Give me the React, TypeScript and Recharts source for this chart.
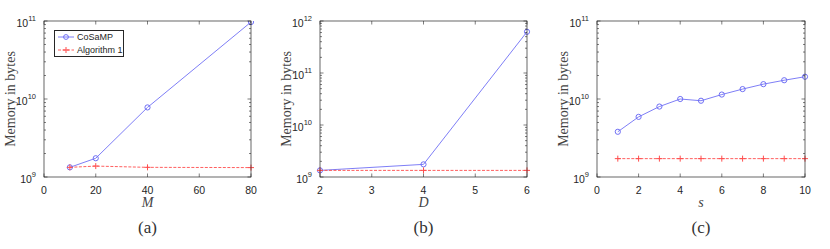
import { LineChart, Line, XAxis, YAxis } from 'recharts'

// (a) memory vs M
const M_VALUES = [10, 20, 40, 80]
const M_COSAMP = [1.33e9, 1.74e9, 7.8e9, 9.7e10]
const M_ALG1 = [1.33e9, 1.38e9, 1.33e9, 1.32e9]

// (b) memory vs D
const D_VALUES = [2, 4, 6]
const D_COSAMP = [1.34e9, 1.75e9, 6.2e11]
const D_ALG1 = [1.34e9, 1.34e9, 1.34e9]

// (c) memory vs s
const S_VALUES = [1, 2, 3, 4, 5, 6, 7, 8, 9, 10]
const S_COSAMP = [3.8e9, 5.9e9, 8.0e9, 1.0e10, 9.5e9, 1.14e10, 1.34e10, 1.55e10, 1.74e10, 1.93e10]
const S_ALG1 = [1.72e9, 1.72e9, 1.72e9, 1.72e9, 1.72e9, 1.72e9, 1.72e9, 1.72e9, 1.72e9, 1.72e9]

const M_TICKS = [0, 20, 40, 60, 80]
const D_TICKS = [2, 3, 4, 5, 6]
const S_TICKS = [0, 2, 4, 6, 8, 10]

const BLUE = '#6f6ff5'
const RED = '#ff4d4d'
const TXT = '#262626'
const SANS = '"Liberation Sans", Arial, sans-serif'
const SERIF = '"Liberation Serif", "Times New Roman", serif'

const Y_AXIS_W = 44
const RIGHT_PAD = 10
const TOP = 21
const PLOT_BOTTOM = 177
const X_AXIS_H = 40
const CHART_H = PLOT_BOTTOM + X_AXIS_H

function logTicks(lo: number, hi: number) {
  const out: number[] = []
  for (let e = lo; e < hi; e++) {
    for (let k = 1; k < 10; k++) out.push(k * Math.pow(10, e))
  }
  out.push(Math.pow(10, hi))
  return out
}

function makeYTick(plotRight: number) {
  return function YTick(props: any) {
    const { y, payload, index } = props
    const v = payload.value as number
    const exp = Math.round(Math.log10(v))
    const major = Math.abs(v - Math.pow(10, exp)) < v * 1e-6
    const len = major ? 3.5 : 2
    return (
      <g>
        {index === 0 && (
          <rect x={Y_AXIS_W} y={TOP} width={plotRight - Y_AXIS_W} height={PLOT_BOTTOM - TOP}
            fill="none" stroke={TXT} strokeWidth={0.7} />
        )}
        <line x1={Y_AXIS_W} x2={Y_AXIS_W + len} y1={y} y2={y} stroke={TXT} strokeWidth={0.6} />
        <line x1={plotRight - len} x2={plotRight} y1={y} y2={y} stroke={TXT} strokeWidth={0.6} />
        {major && (
          <text x={Y_AXIS_W - 8} y={y + 6} textAnchor="end" fontFamily={SANS} fontSize={10.5} fill={TXT}>
            10
            <tspan dy={-6} fontSize={7.5}>{exp}</tspan>
          </text>
        )}
      </g>
    )
  }
}

function XTick(props: any) {
  const { x, payload } = props
  return (
    <g>
      <line x1={x} x2={x} y1={PLOT_BOTTOM} y2={PLOT_BOTTOM - 3.5} stroke={TXT} strokeWidth={0.6} />
      <line x1={x} x2={x} y1={TOP} y2={TOP + 3.5} stroke={TXT} strokeWidth={0.6} />
      <text x={x} y={PLOT_BOTTOM + 17} textAnchor="middle" fontFamily={SANS} fontSize={10.5} fill={TXT}>
        {payload.value}
      </text>
    </g>
  )
}

function YLabel() {
  const cy = (TOP + PLOT_BOTTOM) / 2
  const cx = Y_AXIS_W - 34
  return (
    <text x={cx} y={cy} transform={`rotate(-90 ${cx} ${cy})`} textAnchor="middle" dominantBaseline="central"
      fontFamily={SERIF} fontSize={14} fill="#444">
      Memory in bytes
    </text>
  )
}

function XLabel({ text, viewBox }: any) {
  const cx = viewBox.x + viewBox.width / 2
  return (
    <text x={cx} y={PLOT_BOTTOM + 30} textAnchor="middle" fontFamily={SERIF} fontStyle="italic" fontSize={14} fill="#444">
      {text}
    </text>
  )
}

function Circle(props: any) {
  const { cx, cy, index } = props
  return <circle key={'c' + index} cx={cx} cy={cy} r={2.6} fill="none" stroke={BLUE} strokeWidth={1} />
}

function Plus(props: any) {
  const { cx, cy, index } = props
  return (
    <path key={'p' + index} d={`M${cx - 3},${cy}H${cx + 3}M${cx},${cy - 3}V${cy + 3}`} stroke={RED} strokeWidth={1} fill="none" />
  )
}

interface PanelProps {
  left: number
  plotW: number
  xs: number[]
  cosamp: number[]
  alg1: number[]
  xDomain: [number, number]
  xTicks: number[]
  yExp: [number, number]
  xLabel: string
  caption: string
}

function Panel({ left, plotW, xs, cosamp, alg1, xDomain, xTicks, yExp, xLabel, caption }: PanelProps) {
  const width = Y_AXIS_W + plotW + RIGHT_PAD
  const plotRight = Y_AXIS_W + plotW
  const data = xs.map((x, i) => ({ x, cosamp: cosamp[i], alg1: alg1[i] }))
  return (
    <div style={{ position: 'absolute', left, top: 0, width, height: 249 }}>
      <LineChart width={width} height={CHART_H} data={data} margin={{ top: TOP, right: RIGHT_PAD, left: 0, bottom: 0 }}>
        <XAxis dataKey="x" type="number" domain={xDomain} ticks={xTicks} interval={0} height={X_AXIS_H}
          tick={<XTick />} tickLine={false} axisLine={false}
          label={<XLabel text={xLabel} />} />
        <YAxis type="number" scale="log" domain={[Math.pow(10, yExp[0]), Math.pow(10, yExp[1])]} allowDataOverflow
          ticks={logTicks(yExp[0], yExp[1])} interval={0} width={Y_AXIS_W}
          tick={makeYTick(plotRight)} tickLine={false} axisLine={false}
          label={<YLabel />} />
        <Line dataKey="cosamp" stroke={BLUE} strokeWidth={0.9} dot={Circle} isAnimationActive={false} />
        <Line dataKey="alg1" stroke={RED} strokeWidth={0.9} strokeDasharray="3 1.5" dot={Plus} isAnimationActive={false} />
      </LineChart>
      <div style={{ position: 'absolute', left: Y_AXIS_W, width: plotW, top: 218, textAlign: 'center',
        fontFamily: SERIF, fontSize: 17, color: '#333' }}>
        {caption}
      </div>
    </div>
  )
}

function LegendBox() {
  const row = (color: string, dash: string | undefined, marker: 'o' | '+', label: string) => (
    <div style={{ display: 'flex', alignItems: 'center', height: 13 }}>
      <svg width={18} height={10} style={{ marginRight: 2, flexShrink: 0 }}>
        <line x1={1} x2={17} y1={5} y2={5} stroke={color} strokeWidth={0.9} strokeDasharray={dash} />
        {marker === 'o'
          ? <circle cx={9} cy={5} r={2.4} fill="none" stroke={color} strokeWidth={1} />
          : <path d="M6,5H12M9,2V8" stroke={color} strokeWidth={1} />}
      </svg>
      <span>{label}</span>
    </div>
  )
  return (
    <div style={{ position: 'absolute', left: 54, top: 30, width: 70, height: 27, border: `0.8px solid ${TXT}`,
      background: '#fff', fontFamily: SANS, fontSize: 9, color: TXT, padding: '0 2px', boxSizing: 'border-box',
      whiteSpace: 'nowrap', display: 'flex', flexDirection: 'column', justifyContent: 'center' }}>
      {row(BLUE, undefined, 'o', 'CoSaMP')}
      {row(RED, '3 1.5', '+', 'Algorithm 1')}
    </div>
  )
}

export default function App() {
  return (
    <div style={{ position: 'absolute', left: 0, top: 0, width: 830, height: 249, background: '#fff', overflow: 'hidden' }}>
      <Panel left={0} plotW={207} xs={M_VALUES} cosamp={M_COSAMP} alg1={M_ALG1} xDomain={[0, 80]} xTicks={M_TICKS}
        yExp={[9, 11]} xLabel="M" caption="(a)" />
      <Panel left={276} plotW={207} xs={D_VALUES} cosamp={D_COSAMP} alg1={D_ALG1} xDomain={[2, 6]} xTicks={D_TICKS}
        yExp={[9, 12]} xLabel="D" caption="(b)" />
      <Panel left={553} plotW={208} xs={S_VALUES} cosamp={S_COSAMP} alg1={S_ALG1} xDomain={[0, 10]} xTicks={S_TICKS}
        yExp={[9, 11]} xLabel="s" caption="(c)" />
      <LegendBox />
    </div>
  )
}
